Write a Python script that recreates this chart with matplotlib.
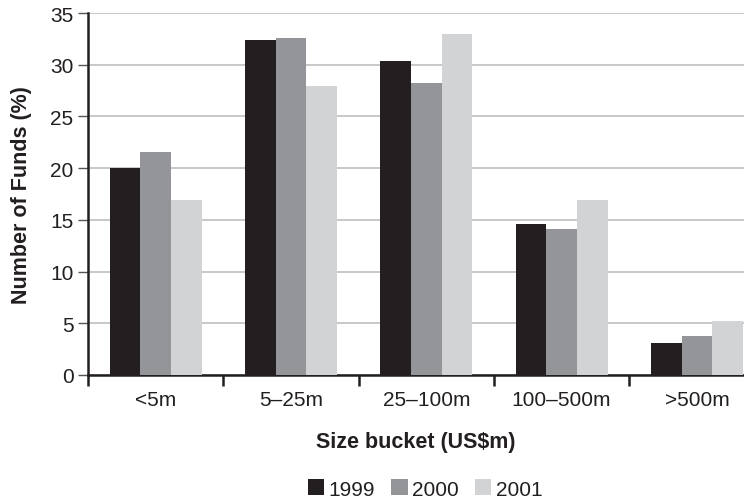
import matplotlib
matplotlib.use("Agg")
import matplotlib.pyplot as plt
import numpy as np
from matplotlib.patches import Patch

plt.rcParams['font.family'] = ['Liberation Sans', 'DejaVu Sans']

categories = ["<5m", "5–25m", "25–100m", "100–500m", ">500m"]
years = ["1999", "2000", "2001"]
v1999 = [20.0, 32.4, 30.4, 14.6, 3.1]
v2000 = [21.6, 32.6, 28.2, 14.1, 3.8]
v2001 = [16.9, 27.9, 33.0, 16.9, 5.2]
colors = ["#231f20", "#939598", "#d1d3d4"]
ink = "#231f20"

fig = plt.figure(figsize=(7.44, 5.02), dpi=100)
ax = fig.add_axes([88/744, 1-376/502, 1-88/744, (376-14)/502])

x = np.arange(len(categories))
w = 0.227
for i, (vals, c) in enumerate(zip([v1999, v2000, v2001], colors)):
    ax.bar(x + (i-1)*w, vals, width=w, color=c, zorder=3, linewidth=0)

ax.set_yticks(range(0, 36, 5))
ax.yaxis.grid(True, color="#c8c8c8", linewidth=1.4, zorder=0)
ax.set_axisbelow(True)

ax.set_xticks(x)
ax.set_xticklabels(categories)
ax.set_xticks(np.arange(-0.5, 4.6, 1.0), minor=True)
ax.set_xlim(-0.5, 4.348)
ax.set_ylim(0, 35)
ax.tick_params(axis='x', which='major', length=0, pad=10.5, labelsize=15, colors=ink)
ax.tick_params(axis='x', which='minor', length=8, width=1.8, direction='out', color=ink)
ax.tick_params(axis='y', length=7, width=1.0, pad=3.5, labelsize=15, colors=ink)
ax.tick_params(axis='y', color="#555555")

for s in ["top", "right"]:
    ax.spines[s].set_visible(False)
for s in ["left", "bottom"]:
    ax.spines[s].set_linewidth(1.8)
    ax.spines[s].set_color(ink)

ax.set_ylabel("Number of Funds (%)", fontsize=15.5, fontweight='bold', color=ink, labelpad=13)
ax.set_xlabel("Size bucket (US$m)", fontsize=15.5, fontweight='bold', color=ink, labelpad=16)

handles = [Patch(facecolor=c, edgecolor='none') for c in colors]
fig.legend(handles, years, loc='center', bbox_to_anchor=(425/744, 1-490/502), ncol=3,
           frameon=False, fontsize=15, handlelength=0.78, handleheight=0.78,
           handletextpad=0.2, columnspacing=0.8, labelcolor=ink)

fig.savefig("out.png", dpi=100)
